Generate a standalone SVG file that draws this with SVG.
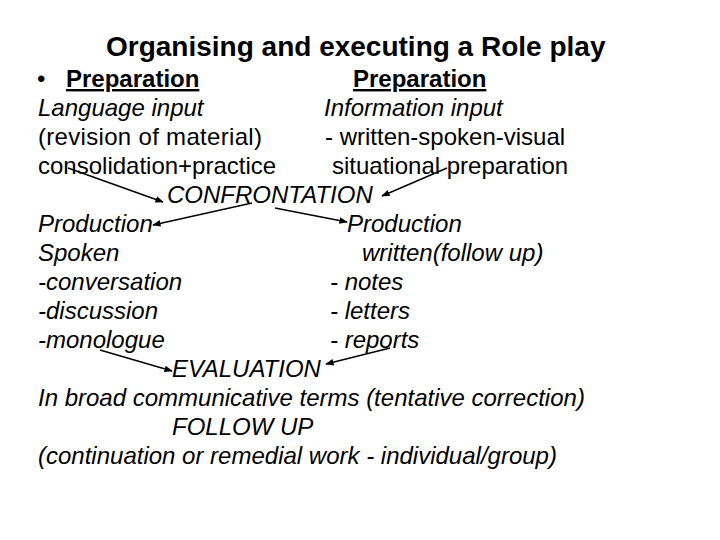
<svg xmlns="http://www.w3.org/2000/svg" width="720" height="540" viewBox="0 0 720 540">
<style>
text{font-family:"Liberation Sans",Arial,sans-serif;font-size:24px;fill:#000}
.t{font-weight:bold;font-size:28px}
.h{font-weight:bold;text-decoration:underline}
.i{font-style:italic}
.c{stroke:#000;stroke-width:1.4;fill:none;marker-end:url(#ah)}
</style>
<defs>
<marker id="ah" viewBox="0 0 10 10" refX="9" refY="5" markerWidth="6" markerHeight="6" orient="auto" markerUnits="strokeWidth">
<path d="M0,1 L10,5 L0,9 z" fill="#000"/>
</marker>
</defs>
<rect width="720" height="540" fill="#fff"/>
<g id="title"><text class="t" x="106" y="56">Organising and executing a Role play</text></g>
<g id="prep-left">
<text x="37" y="87">•</text>
<text class="h" x="66" y="87">Preparation</text>
<text class="i" x="38" y="116">Language input</text>
<text x="38" y="145" textLength="224">(revision of material)</text>
<text x="38" y="174">consolidation+practice</text>
</g>
<g id="prep-right">
<text class="h" x="353" y="87">Preparation</text>
<text class="i" x="324" y="116">Information input</text>
<text x="325" y="145">- written-spoken-visual</text>
<text x="332" y="174">situational preparation</text>
</g>
<g id="confrontation"><text class="i" x="167" y="203">CONFRONTATION</text></g>
<g id="prod-left">
<text class="i" x="38" y="232">Production</text>
<text class="i" x="38" y="261">Spoken</text>
<text class="i" x="38" y="290">-conversation</text>
<text class="i" x="38" y="319">-discussion</text>
<text class="i" x="38" y="348">-monologue</text>
</g>
<g id="prod-right">
<text class="i" x="347" y="232">Production</text>
<text class="i" x="362" y="261">written(follow up)</text>
<text class="i" x="330" y="290">- notes</text>
<text class="i" x="330" y="319">- letters</text>
<text class="i" x="330" y="348">- reports</text>
</g>
<g id="evaluation">
<text class="i" x="172" y="377">EVALUATION</text>
<text class="i" x="38" y="406">In broad communicative terms (tentative correction)</text>
</g>
<g id="followup">
<text class="i" x="172" y="435">FOLLOW UP</text>
<text class="i" x="38" y="464">(continuation or remedial work - individual/group)</text>
</g>
<g id="connectors">
<line class="c" x1="68" y1="168" x2="163" y2="202"/>
<line class="c" x1="447" y1="168" x2="382" y2="196"/>
<line class="c" x1="252" y1="203" x2="153" y2="225"/>
<line class="c" x1="275" y1="208" x2="347" y2="222"/>
<line class="c" x1="100" y1="350" x2="172" y2="371"/>
<line class="c" x1="390" y1="348" x2="326" y2="364"/>
</g>
</svg>
